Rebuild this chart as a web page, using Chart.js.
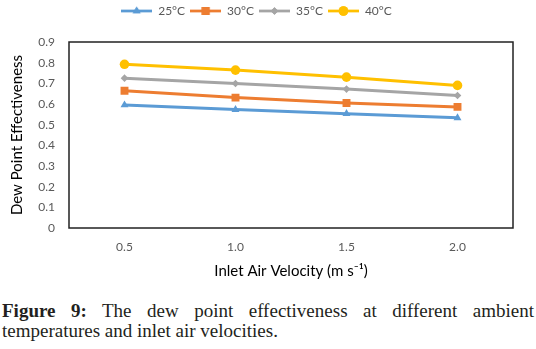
<!DOCTYPE html>
<html>
<head>
<meta charset="utf-8">
<script src="https://cdn.jsdelivr.net/npm/chart.js@4/dist/chart.umd.min.js"></script>
<style>
  html, body { margin: 0; padding: 0; background: #fff; }
  body { width: 536px; height: 349px; position: relative; overflow: hidden; }
  #wrap { position: absolute; left: 0; top: 0; width: 536px; height: 290px; }
  #caption {
    position: absolute; left: 2px; top: 301px; width: 532px;
    font-family: "Liberation Serif", serif; font-size: 19px; line-height: 20px;
    text-align: justify; color: #231f20;
  }
  #caption b { font-weight: bold; }
</style>
</head>
<body>
<div id="wrap"><canvas id="c" width="536" height="290"></canvas></div>
<div id="caption"><b>Figure 9:</b> The dew point effectiveness at different ambient temperatures and inlet air velocities.</div>
<script>
// ---- data ----
const velocities = ["0.5", "1.0", "1.5", "2.0"];
const seriesNames = ["25°C", "30°C", "35°C", "40°C"];
const t25 = [0.595, 0.573, 0.553, 0.533];
const t30 = [0.664, 0.631, 0.605, 0.586];
const t35 = [0.725, 0.699, 0.672, 0.641];
const t40 = [0.792, 0.764, 0.730, 0.690];
const yTicks = [0, 0.1, 0.2, 0.3, 0.4, 0.5, 0.6, 0.7, 0.8, 0.9];

const colors = ["#5B9BD5", "#ED7D31", "#A5A5A5", "#FFC000"];
const styles = ["triangle", "rect", "rectRot", "circle"];
const radii = [4.6, 5.6, 3.8, 4.8];

function legendImage(color, style, r) {
  const cv = document.createElement('canvas');
  cv.width = 31; cv.height = 12;
  const ctx = cv.getContext('2d');
  ctx.strokeStyle = color; ctx.lineWidth = 2.75;
  ctx.beginPath(); ctx.moveTo(0, 6); ctx.lineTo(31, 6); ctx.stroke();
  ctx.fillStyle = color;
  Chart.helpers.drawPoint(ctx, {pointStyle: style, radius: r, rotation: 0, borderWidth: 0}, 15.5, 6);
  ctx.fill();
  return cv;
}

const allSeries = [t25, t30, t35, t40];
const datasets = allSeries.map((d, i) => ({
  label: seriesNames[i],
  data: d,
  borderColor: colors[i],
  backgroundColor: colors[i],
  borderWidth: 3,
  pointStyle: styles[i],
  pointRadius: radii[i],
  pointHoverRadius: radii[i],
  pointBorderWidth: 0,
  pointBackgroundColor: colors[i],
  tension: 0
}));

const borderPlugin = {
  id: 'plotBorder',
  beforeDatasetsDraw(chart) {
    const a = chart.chartArea, ctx = chart.ctx;
    ctx.save();
    ctx.strokeStyle = '#222';
    ctx.lineWidth = 1.5;
    ctx.strokeRect(a.left, a.top, a.right - a.left, a.bottom - a.top);
    ctx.restore();
  }
};

const legendFix = {
  id: 'legendFix',
  afterInit(chart) {
    const lg = chart.legend;
    if (lg) {
      const f = lg.fit;
      lg.fit = function () { f.call(this); this.height = 42; };
    }
  }
};

const tickFont = { family: "Lato", size: 12 };
new Chart(document.getElementById('c'), {
  type: 'line',
  data: { labels: velocities, datasets },
  plugins: [borderPlugin, legendFix],
  options: {
    responsive: false,
    animation: false,
    layout: { padding: { left: 0, right: 23, top: 0, bottom: 0 } },
    plugins: {
      tooltip: { enabled: false },
      legend: {
        position: 'top',
        labels: {
          usePointStyle: true,
          pointStyleWidth: 31,
          padding: 5,
          color: '#595959',
          font: { family: "Lato", size: 12 },
          generateLabels(chart) {
            return chart.data.datasets.map((ds, i) => ({
              text: ds.label,
              fillStyle: colors[i],
              strokeStyle: colors[i],
              lineWidth: 0,
              pointStyle: legendImage(colors[i], styles[i], radii[i]),
              fontColor: '#595959',
              datasetIndex: i,
              hidden: false
            }));
          }
        }
      }
    },
    scales: {
      x: {
        offset: true,
        grid: { display: false, drawTicks: false },
        border: { display: false },
        ticks: { color: '#595959', font: tickFont, padding: 12 },
        title: {
          display: true,
          text: 'Inlet Air Velocity (m s\u207B\u00B9)',
          color: '#000',
          font: { family: "Lato", size: 15 },
          padding: { top: 0, bottom: 10 }
        },
        afterFit(s) { s.height = 62; }
      },
      y: {
        min: 0, max: 0.9,
        grid: { display: false, drawTicks: false },
        border: { display: false },
        afterBuildTicks(s) { s.ticks = yTicks.map(v => ({ value: v })); },
        ticks: {
          color: '#595959', font: tickFont, padding: 14,
          callback: (v) => v === 0 ? '0' : Number(v).toFixed(1)
        },
        title: {
          display: true,
          text: 'Dew Point Effectiveness',
          color: '#000',
          font: { family: "Lato", size: 15 },
          padding: { top: 8, bottom: 0 }
        },
        afterFit(s) { s.width = 69; }
      }
    }
  }
});
</script>
</body>
</html>
